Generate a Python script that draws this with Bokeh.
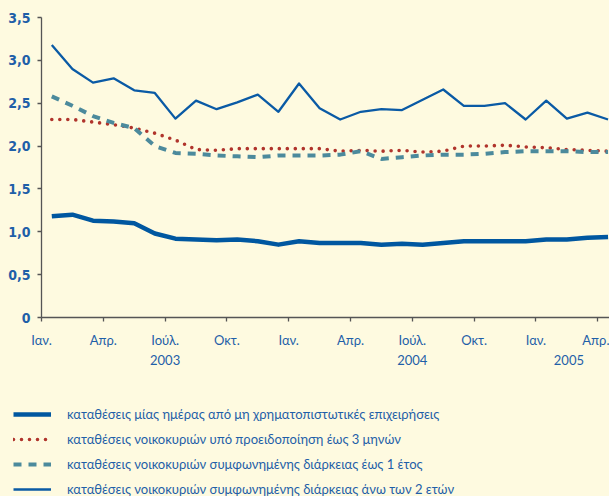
from bokeh.plotting import figure
from bokeh.layouts import column
from bokeh.models import Range1d, FixedTicker, LinearAxis, Legend, LegendItem
from bokeh.embed import file_html
from bokeh.resources import INLINE

# ---- data -------------------------------------------------------------
month_index = list(range(28))          # Jan 2003 ... Apr 2005
tick_months = [0, 3, 6, 9, 12, 15, 18, 21, 24, 27]
tick_labels = ["Ιαν.", "Απρ.", "Ιούλ.", "Οκτ.", "Ιαν.", "Απρ.", "Ιούλ.", "Οκτ.", "Ιαν.", "Απρ."]
year_pos = [6, 18, 25.6]
year_labels = ["2003", "2004", "2005"]
y_ticks = [0, 0.5, 1, 1.5, 2, 2.5, 3, 3.5]
y_tick_labels = ["0", "0,5", "1,0", "1,5", "2,0", "2,5", "3,0", "3,5"]

overnight = [1.18, 1.20, 1.13, 1.12, 1.10, 0.98, 0.92, 0.91, 0.90, 0.91, 0.89, 0.85, 0.89, 0.87,
             0.87, 0.87, 0.85, 0.86, 0.85, 0.87, 0.89, 0.89, 0.89, 0.89, 0.91, 0.91, 0.93, 0.94]
notice_3m = [2.31, 2.31, 2.28, 2.25, 2.21, 2.15, 2.07, 1.96, 1.95, 1.97, 1.97, 1.97, 1.97, 1.97,
             1.94, 1.95, 1.94, 1.95, 1.93, 1.94, 2.00, 2.00, 2.01, 1.99, 1.98, 1.96, 1.95, 1.94]
agreed_1y = [2.58, 2.47, 2.35, 2.27, 2.21, 2.00, 1.92, 1.91, 1.89, 1.88, 1.87, 1.89, 1.89, 1.89,
             1.90, 1.94, 1.85, 1.87, 1.89, 1.90, 1.90, 1.91, 1.93, 1.94, 1.94, 1.94, 1.93, 1.93]
agreed_2y = [3.18, 2.90, 2.74, 2.79, 2.65, 2.62, 2.32, 2.53, 2.43, 2.51, 2.60, 2.40, 2.73, 2.44,
             2.31, 2.40, 2.43, 2.42, 2.54, 2.66, 2.47, 2.47, 2.50, 2.31, 2.53, 2.32, 2.39, 2.31]
series_names = [
    "καταθέσεις μίας ημέρας από μη χρηματοπιστωτικές επιχειρήσεις",
    "καταθέσεις νοικοκυριών υπό προειδοποίηση έως 3 μηνών",
    "καταθέσεις νοικοκυριών συμφωνημένης διάρκειας έως 1 έτος",
    "καταθέσεις νοικοκυριών συμφωνημένης διάρκειας άνω των 2 ετών",
]

# ---- styling -----------------------------------------------------------
BG = "#FEFAE0"
TXT = "#1F5FA8"
AXIS = "#555555"
styles = [
    dict(line_color="#0057A0", line_width=4.5, line_join="round"),
    dict(line_color="#B0342C", line_width=3.6, line_dash="0 8", line_cap="round"),
    dict(line_color="#4C8A9C", line_width=4, line_dash="8 7"),
    dict(line_color="#0A5AA5", line_width=2.3, line_join="round"),
]

x = [m + 0.5 for m in month_index]

p = figure(width=609, height=381, output_backend="svg", toolbar_location=None,
           x_range=Range1d(0, 27.57), y_range=Range1d(0, 3.5),
           min_border_left=41, min_border_right=0, min_border_top=17, min_border_bottom=64)
p.background_fill_color = BG
p.border_fill_color = BG
p.outline_line_color = None
p.grid.visible = False
p.frame_align = False

for ys, st in zip([overnight, notice_3m, agreed_1y, agreed_2y], styles):
    p.line(x, ys, **st)

# y axis
ya = p.yaxis[0]
ya.ticker = FixedTicker(ticks=y_ticks)
ya.major_label_overrides = dict(zip(y_ticks, y_tick_labels))
ya.axis_line_color = AXIS
ya.axis_line_width = 1.3
ya.major_tick_line_color = AXIS
ya.major_tick_line_width = 1.3
ya.major_tick_out = 4
ya.major_tick_in = 0
ya.minor_tick_line_color = None
ya.major_label_standoff = 7
ya.major_label_text_font = "DejaVu Sans Condensed"
ya.major_label_text_font_style = "bold"
ya.major_label_text_font_size = "14px"
ya.major_label_text_color = TXT

# x axis (months)
xa = p.xaxis[0]
xa.ticker = FixedTicker(ticks=tick_months)
xa.major_label_overrides = dict(zip(tick_months, tick_labels))
xa.axis_line_color = AXIS
xa.axis_line_width = 1.3
xa.major_tick_line_color = AXIS
xa.major_tick_line_width = 1.3
xa.major_tick_out = 4
xa.major_tick_in = 0
xa.minor_tick_line_color = None
xa.major_label_standoff = 10
xa.major_label_text_font = "Lato"
xa.major_label_text_font_size = "13px"
xa.major_label_text_color = TXT

# x axis (years)
xa2 = LinearAxis(ticker=FixedTicker(ticks=year_pos),
                 major_label_overrides=dict(zip(year_pos, year_labels)))
xa2.axis_line_color = None
xa2.major_tick_line_color = None
xa2.minor_tick_line_color = None
xa2.major_tick_out = 0
xa2.major_tick_in = 0
xa2.major_label_standoff = 4
xa2.major_label_text_font = "Lato"
xa2.major_label_text_font_size = "13px"
xa2.major_label_text_color = TXT
p.add_layout(xa2, "below")

# ---- legend panel ------------------------------------------------------
lg = figure(width=609, height=115, output_backend="svg", toolbar_location=None,
            x_range=Range1d(0, 1), y_range=Range1d(0, 1),
            x_axis_location=None, y_axis_location=None,
            min_border_left=0, min_border_right=0, min_border_top=0, min_border_bottom=0)
lg.background_fill_color = BG
lg.border_fill_color = BG
lg.outline_line_color = None
lg.grid.visible = False
lg.frame_align = False
nan = float("nan")
lg_renderers = [lg.line([nan, nan], [nan, nan], **st) for st in styles]

legend = Legend(items=[LegendItem(label=n, renderers=[r]) for n, r in zip(series_names, lg_renderers)],
                location=(13, -1))
legend.background_fill_alpha = 0
legend.border_line_color = None
legend.label_text_font = "Lato"
legend.label_text_font_size = "13px"
legend.label_text_color = TXT
legend.glyph_width = 38
legend.glyph_height = 16
legend.label_height = 16
legend.spacing = 9
legend.padding = 0
legend.margin = 0
legend.label_standoff = 16
lg.add_layout(legend)

layout = column(p, lg, spacing=0, styles={"background-color": BG})
open("out.html", "w").write(file_html(layout, INLINE))
